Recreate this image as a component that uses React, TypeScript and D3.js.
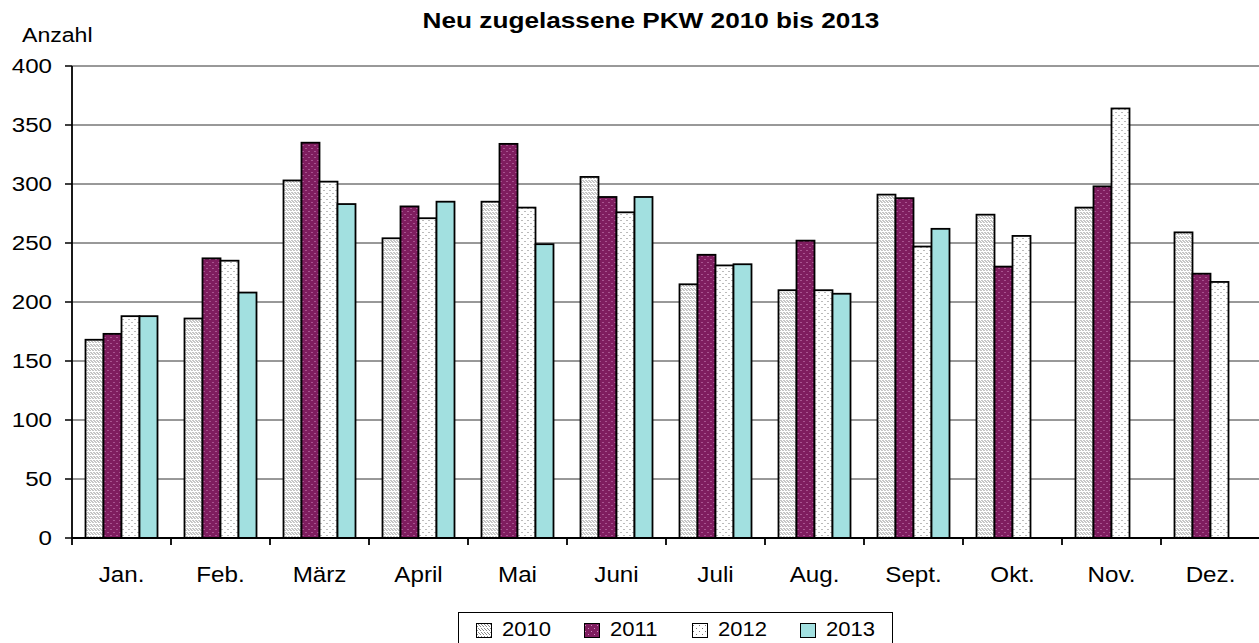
import React, { useEffect } from 'react';
import * as d3 from 'd3';

const months = ['Jan.', 'Feb.', 'März', 'April', 'Mai', 'Juni', 'Juli', 'Aug.', 'Sept.', 'Okt.', 'Nov.', 'Dez.'];
const years = ['2010', '2011', '2012', '2013'];

const v2010 = [168, 186, 303, 254, 285, 306, 215, 210, 291, 274, 280, 259];
const v2011 = [173, 237, 335, 281, 334, 289, 240, 252, 288, 230, 298, 224];
const v2012 = [188, 235, 302, 271, 280, 276, 231, 210, 247, 256, 364, 217];
const v2013 = [188, 208, 283, 285, 249, 289, 232, 207, 262, null, null, null];

const yTicks = [0, 50, 100, 150, 200, 250, 300, 350, 400];

const series = [v2010, v2011, v2012, v2013];
const fills = ['url(#p2010)', 'url(#p2011)', 'url(#p2012)', '#a2e0e0'];

const W = 1259;
const H = 643;
const font = '"Liberation Sans", Arial, sans-serif';

// text slightly stretched sideways, like the original export
const T = ({ x, y, sx = 1.1, size, anchor = 'start', bold = false, children }: any) => (
  <text
    transform={`translate(${x},${y}) scale(${sx},1)`}
    textAnchor={anchor}
    fontSize={size}
    fontWeight={bold ? 'bold' : 'normal'}
    fill="#000"
  >
    {children}
  </text>
);

const App = () => {
  useEffect(() => {
    document.body.style.margin = '0';
  }, []);

  const x0 = d3.scaleBand().domain(months).range([72, 1260]);
  const bw = x0.bandwidth();
  const groupW = (bw * 4) / 5.5;
  const x1 = d3.scaleBand().domain(years).range([0, groupW]);
  const y = d3.scaleLinear().domain([0, 400]).range([538, 66]);

  const legendX = d3.scaleBand().domain(years).range([476, 908]);

  return (
    <svg width={W} height={H} style={{ display: 'block', fontFamily: font }}>
      <defs>
        <pattern id="p2010" width="3" height="4" patternUnits="userSpaceOnUse">
          <rect width="3" height="4" fill="#fff" />
          <path d="M0,1 L2,3 M2,0 L3,1" stroke="#8c8c8c" strokeWidth="1" />
        </pattern>
        <pattern id="p2011" width="6" height="6" patternUnits="userSpaceOnUse">
          <rect width="6" height="6" fill="#7f1d5f" />
          <rect x="1" y="1" width="1" height="1" fill="#d08cc0" />
          <rect x="4" y="4" width="1" height="1" fill="#d08cc0" />
        </pattern>
        <pattern id="p2012" width="6" height="6" patternUnits="userSpaceOnUse">
          <rect width="6" height="6" fill="#fff" />
          <rect x="1" y="1" width="1" height="1" fill="#777" />
          <rect x="4" y="4" width="1" height="1" fill="#777" />
        </pattern>
      </defs>

      <T x={651} y={28} size={22} sx={1.19} anchor="middle" bold>
        Neu zugelassene PKW 2010 bis 2013
      </T>
      <T x={22} y={42} size={21} sx={1.1}>Anzahl</T>

      {yTicks.map((t) => (
        <g key={t}>
          {t > 0 && <line x1={72} x2={1260} y1={y(t)} y2={y(t)} stroke="#333" strokeWidth="1" />}
          <line x1={65} x2={72} y1={y(t)} y2={y(t)} stroke="#000" strokeWidth="1.5" />
          <T x={52} y={y(t) + 7} size={21} sx={1.15} anchor="end">{t}</T>
        </g>
      ))}

      {months.map((m, i) => (
        <g key={m} transform={`translate(${x0(m)! + (bw - groupW) / 2},0)`}>
          {series.map((s, k) =>
            s[i] == null ? null : (
              <rect
                key={k}
                x={x1(years[k])}
                y={y(s[i] as number)}
                width={x1.bandwidth()}
                height={y(0) - y(s[i] as number)}
                fill={fills[k]}
                stroke="#000"
                strokeWidth="1.8"
              />
            )
          )}
        </g>
      ))}

      <line x1={72} x2={72} y1={66} y2={538} stroke="#000" strokeWidth="1.8" />
      <line x1={72} x2={1260} y1={538} y2={538} stroke="#000" strokeWidth="1.8" />
      {months.map((m) => (
        <g key={m}>
          <line x1={x0(m)!} x2={x0(m)!} y1={538} y2={545} stroke="#000" strokeWidth="1.8" />
          <T x={x0(m)! + bw / 2} y={582} size={22} sx={1.1} anchor="middle">{m}</T>
        </g>
      ))}

      <rect x={458.5} y={612.5} width={434} height={32} fill="#fff" stroke="#000" strokeWidth="1" />
      {years.map((yr, k) => (
        <g key={yr} transform={`translate(${legendX(yr)},0)`}>
          <rect x={0.5} y={623.5} width={15} height={14} fill={fills[k]} stroke="#000" strokeWidth="1" />
          <T x={26} y={636} size={21} sx={1.05}>{yr}</T>
        </g>
      ))}
    </svg>
  );
};

export default App;
